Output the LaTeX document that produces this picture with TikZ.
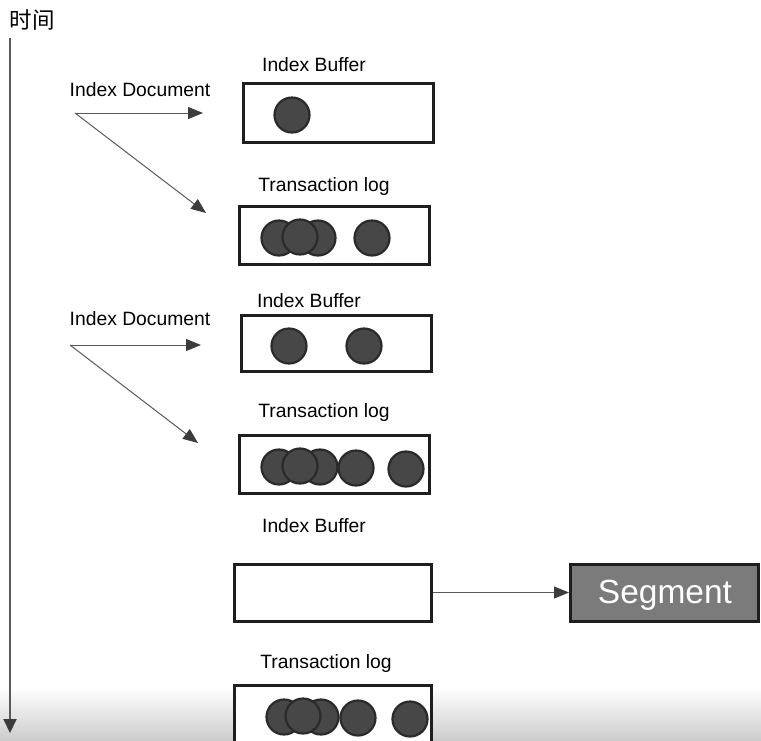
\documentclass[tikz,border=0pt]{standalone}
\usepackage{fontspec}
\setmainfont{Liberation Sans}
\newfontfamily\cjk{Noto Sans CJK SC}
\usetikzlibrary{arrows.meta}
\definecolor{boxedge}{HTML}{1E1E1E}
\definecolor{dotfill}{HTML}{474747}
\definecolor{dotedge}{HTML}{2A2A2A}
\definecolor{arrowgray}{HTML}{5A5A5A}
\definecolor{tipgray}{HTML}{3C3C3C}
\definecolor{seggray}{HTML}{7B7B7B}
\begin{document}
\begin{tikzpicture}[x=1pt,y=-1pt,
  bufbox/.style={draw=boxedge,line width=3pt,fill=white,inner sep=0pt},
  dot/.style={circle,draw=dotedge,line width=2.2pt,fill=dotfill,minimum size=35pt,inner sep=0pt},
  lbl/.style={font=\fontsize{19.3}{21}\selectfont,text=black,inner sep=0pt},
  flow/.style={draw=arrowgray,line width=1pt,-{Triangle[length=15pt,width=12pt,color=tipgray]}},
  timeline/.style={draw=arrowgray,line width=2pt,-{Triangle[length=14pt,width=13pt,color=tipgray]}}
]
\useasboundingbox (0,0) rectangle (761,740);
\shade[top color=white,bottom color=black!20] (0,688) rectangle (761,740);

% time axis
\node[font=\cjk\fontsize{22.5}{25}\selectfont,inner sep=0pt] (time) at (32,20) {时间};
\coordinate (t0) at (10,38);
\coordinate (t1) at (10,733);
\draw[timeline] (t0) -- (t1);

% ---------- section 1 ----------
\node[lbl] (doc1) at (140,90) {Index Document};
\coordinate (o1) at (75,113);
\coordinate (h1) at (203,113);
\coordinate (d1) at (206,213);
\draw[flow] (o1) -- (h1);
\draw[flow] (o1) -- (d1);

\node[lbl] (ibl1) at (314,65) {Index Buffer};
\node[bufbox,minimum width=190pt,minimum height=59pt] (ib1) at (338.5,113) {};
\node[dot] (c11) at (292,115) {};

\node[lbl] (tll1) at (324,187) {Transaction log};
\node[bufbox,minimum width=190pt,minimum height=58pt] (tl1) at (334.5,235.5) {};
\node[dot] (c21) at (279,238) {};
\node[dot] (c23) at (318,238) {};
\node[dot] (c22) at (300,237) {};
\node[dot] (c24) at (372,238) {};

% ---------- section 2 ----------
\node[lbl] (doc2) at (140,319) {Index Document};
\coordinate (o2) at (70,345);
\coordinate (h2) at (201,345);
\coordinate (d2) at (198,443);
\draw[flow] (o2) -- (h2);
\draw[flow] (o2) -- (d2);

\node[lbl] (ibl2) at (309,301) {Index Buffer};
\node[bufbox,minimum width=190pt,minimum height=56pt] (ib2) at (336,343) {};
\node[dot] (c31) at (289,346) {};
\node[dot] (c32) at (364,346) {};

\node[lbl] (tll2) at (324,413) {Transaction log};
\node[bufbox,minimum width=190pt,minimum height=58pt] (tl2) at (334.5,464) {};
\node[dot] (c41) at (279,467) {};
\node[dot] (c43) at (320,467) {};
\node[dot] (c42) at (300,466) {};
\node[dot] (c44) at (356,468) {};
\node[dot] (c45) at (406,469) {};

% ---------- section 3 ----------
\node[lbl] (ibl3) at (314,526) {Index Buffer};
\node[bufbox,minimum width=197pt,minimum height=57pt] (ib3) at (332.5,592.5) {};
\node[draw=boxedge,line width=3pt,fill=seggray,minimum width=188pt,minimum height=57pt,
      inner sep=0pt,text=white,font=\fontsize{33.5}{36}\selectfont] (seg) at (664.5,592.5) {};
\node[text=white,font=\fontsize{33.5}{36}\selectfont,inner sep=0pt] (segtxt) at (665,595) {Segment};
\draw[flow] (ib3.east) -- (seg.west);

\node[lbl] (tll3) at (326,663) {Transaction log};
\node[bufbox,minimum width=197pt,minimum height=70pt] (tl3) at (332.5,720) {};
\node[dot] (c51) at (284,717) {};
\node[dot] (c53) at (321,717) {};
\node[dot] (c52) at (303,716) {};
\node[dot] (c54) at (358,718) {};
\node[dot] (c55) at (410,719) {};
\end{tikzpicture}
\end{document}
